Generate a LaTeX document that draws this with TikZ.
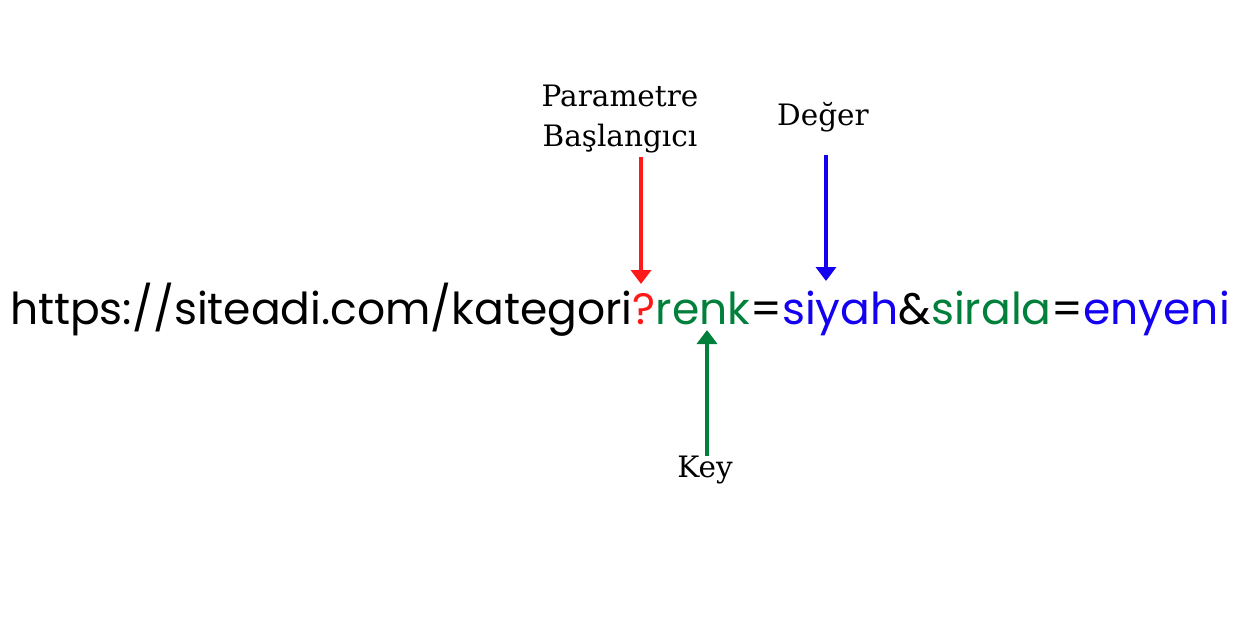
\documentclass[tikz,border=0pt]{standalone}
\usepackage{fontspec}
\setmainfont{DejaVu Serif}
\newfontfamily\urlfont{Poppins}
\usetikzlibrary{arrows.meta}
\definecolor{cred}{HTML}{FF1A1A}
\definecolor{cgreen}{HTML}{00803A}
\definecolor{cblue}{HTML}{1400F0}
\begin{document}
\begin{tikzpicture}[x=1pt,y=-1pt,
  seg/.style={inner sep=0pt,outer sep=0pt,anchor=base west,font=\urlfont\fontsize{44}{50}\selectfont},
  lbl/.style={font=\fontsize{29.5}{40}\selectfont,align=center,inner sep=0pt},
  arr/.style={line width=4pt,-{Triangle[width=20pt,length=14pt]}}]
\useasboundingbox (0,0) rectangle (1240,640);
\node[seg] (u1) at (10,324) {https://siteadi.com/kategori};
\node[seg,text=cred] (q) at (u1.base east) {?};
\node[seg,text=cgreen] (k1) at (q.base east) {renk};
\node[seg] (e1) at (k1.base east) {=};
\node[seg,text=cblue] (v1) at (e1.base east) {siyah};
\node[seg] (amp) at (v1.base east) {\&};
\node[seg,text=cgreen] (k2) at (amp.base east) {sirala};
\node[seg] (e2) at (k2.base east) {=};
\node[seg,text=cblue] (v2) at (e2.base east) {enyeni};
\node[lbl] (pb) at (620,119) {Parametre\\Başlangıcı};
\node[lbl] (dg) at (823,117) {Değer};
\node[lbl] (ky) at (705,470) {Key};
\coordinate (a1s) at (641,157);
\coordinate (a1e) at (641,284);
\coordinate (a2s) at (826,155);
\coordinate (a2e) at (826,281);
\coordinate (a3s) at (707,456);
\coordinate (a3e) at (707,330);
\draw[arr,cred] (a1s) -- (a1e);
\draw[arr,cblue] (a2s) -- (a2e);
\draw[arr,cgreen] (a3s) -- (a3e);
\end{tikzpicture}
\end{document}
